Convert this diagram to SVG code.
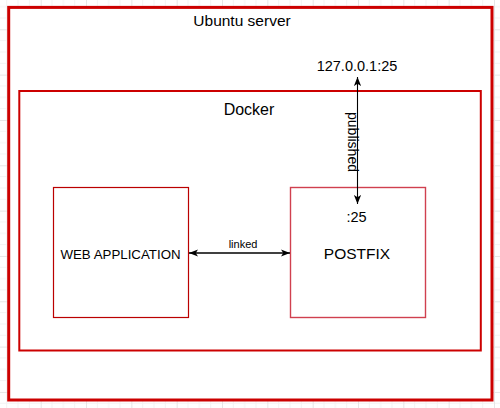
<svg xmlns="http://www.w3.org/2000/svg" width="500" height="408" viewBox="0 0 500 408">
  <style>
    text { font-family: "Liberation Sans", Arial, Helvetica, sans-serif; fill: #000000; }
    .container { fill: #ffffff; stroke: #cc0000; }
    .box { fill: #ffffff; stroke: #bb0000; stroke-width: 1.2; }
    .box2 { fill: #ffffff; stroke: #d0404f; stroke-width: 1.4; }
    .conn { fill: none; stroke: #000000; }
  </style>
  <defs>
    <pattern id="grid" patternUnits="userSpaceOnUse" x="40.7" y="29.3" width="45.33" height="45.33">
      <path d="M11.33 0V45.33M22.67 0V45.33M34 0V45.33M0 11.33H45.33M0 22.67H45.33M0 34H45.33" stroke="#f3f3f3" stroke-width="1" fill="none"/>
      <path d="M0.5 0V45.33M0 0.5H45.33" stroke="#e6e6e6" stroke-width="1" fill="none"/>
    </pattern>
    <marker id="arrow" viewBox="0 0 10 8" refX="10" refY="4" markerWidth="9" markerHeight="7.5" markerUnits="userSpaceOnUse" orient="auto-start-reverse">
      <path d="M0,0 L10,4 L0,8 L2.5,4 z" fill="#000000"/>
    </marker>
  </defs>
  <rect x="0" y="0" width="500" height="408" fill="#ffffff"/>
  <rect x="0" y="0" width="500" height="408" fill="url(#grid)"/>

  <g id="ubuntu-server">
    <rect class="container" x="8.7" y="7.4" width="483.3" height="392.6" stroke-width="3"/>
    <text x="242" y="25.5" font-size="15.5" text-anchor="middle">Ubuntu server</text>
  </g>

  <g id="docker">
    <rect class="container" x="19.3" y="91" width="461.5" height="259.5" stroke-width="2"/>
    <text x="249" y="115" font-size="16" text-anchor="middle">Docker</text>
  </g>

  <g id="host-port">
    <text x="357" y="70.7" font-size="14.5" text-anchor="middle">127.0.0.1:25</text>
  </g>

  <g id="web-application">
    <rect class="box" x="53.5" y="187.5" width="135" height="130"/>
    <text x="120.5" y="259" font-size="13.3" text-anchor="middle">WEB APPLICATION</text>
  </g>

  <g id="postfix">
    <rect class="box2" x="290.5" y="187.5" width="135" height="130"/>
    <text x="356.5" y="221.7" font-size="14.5" text-anchor="middle">:25</text>
    <text x="357" y="259" font-size="15.5" text-anchor="middle">POSTFIX</text>
  </g>

  <g id="connectors">
    <line class="conn" x1="189" y1="253" x2="290" y2="253" stroke-width="1.4" marker-start="url(#arrow)" marker-end="url(#arrow)"/>
    <text x="243" y="247.5" font-size="11" text-anchor="middle">linked</text>
    <line class="conn" x1="357.5" y1="77" x2="357.5" y2="204" stroke-width="1.1" marker-start="url(#arrow)" marker-end="url(#arrow)"/>
    <text transform="translate(348,142) rotate(90)" font-size="14" text-anchor="middle">published</text>
  </g>
</svg>
